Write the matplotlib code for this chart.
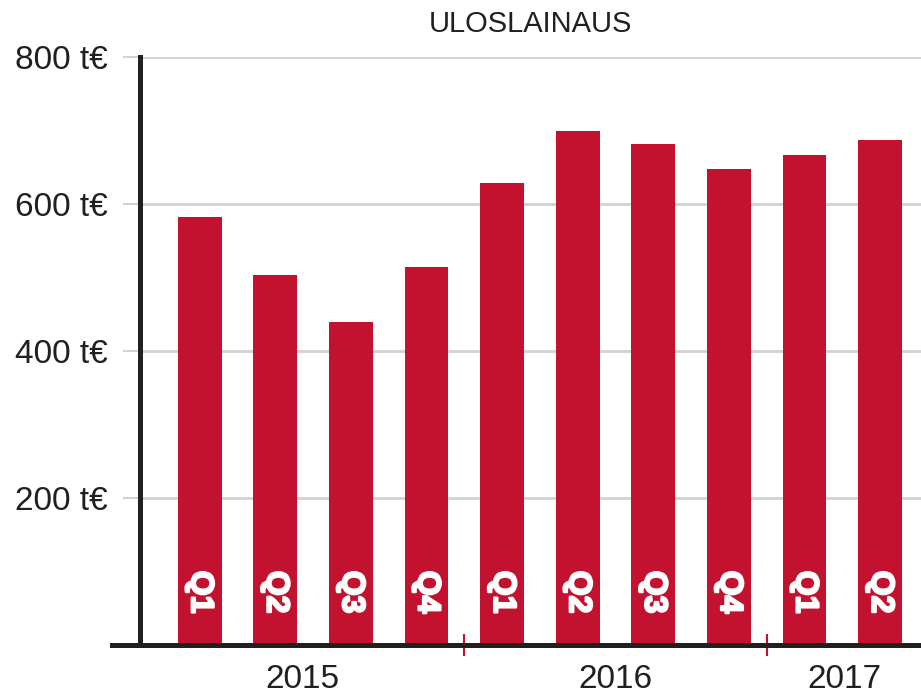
import matplotlib
matplotlib.use("Agg")
import matplotlib.pyplot as plt
import matplotlib.patheffects as pe
import numpy as np

# quarterly lending, thousand euros
quarters = ["Q1", "Q2", "Q3", "Q4", "Q1", "Q2", "Q3", "Q4", "Q1", "Q2"]
values = [582, 504, 439, 514, 628, 700, 682, 648, 667, 687]
years = ["2015", "2016", "2017"]
year_breaks = [3.5, 7.5]   # between Q4 and the next Q1
yticks = [200, 400, 600, 800]

red = "#c3122f"
dark = "#231f20"
grid = "#d2d2d2"

plt.rcParams["font.family"] = ["Liberation Sans", "DejaVu Sans"]

fig = plt.figure(figsize=(9.21, 6.96), dpi=100)
ax = fig.add_axes([140 / 921, 1 - 645 / 696, 781 / 921, (645 - 57) / 696])

x = np.arange(len(values))
ax.bar(x, values, width=0.58, color=red, zorder=3)

for xi, q in zip(x, quarters):
    ax.text(xi, 72, q, rotation=-90, ha="center", va="center",
            color="white", fontsize=23, fontweight="bold", zorder=4,
            path_effects=[pe.withStroke(linewidth=1.6, foreground="white")])

xlim = (-0.79, 9.54)
ax.set_xlim(*xlim)
ax.set_ylim(0, 800)

ax.set_yticks(yticks)
ax.set_yticklabels([f"{v} t€" for v in yticks])
ax.yaxis.grid(True, color=grid, linewidth=2, zorder=0)
ax.tick_params(axis="y", length=12.5, width=1.5, color=grid, pad=11,
               labelsize=24, labelcolor=dark)

# year labels centred between dividers
edges = [xlim[0]] + year_breaks + [xlim[1]]
mids = [(a + b) / 2 for a, b in zip(edges[:-1], edges[1:])]
ax.set_xticks(mids)
ax.set_xticklabels(years)
ax.set_xticks(year_breaks, minor=True)
ax.tick_params(axis="x", which="major", length=0, pad=14,
               labelsize=24, labelcolor=dark)
ax.tick_params(axis="x", which="minor", direction="inout", length=16,
               width=1.5, color=red)

for s in ["top", "right", "bottom"]:
    ax.spines[s].set_visible(False)
ax.spines["left"].set_color(dark)
ax.spines["left"].set_linewidth(3.6)
ax.spines["left"].set_zorder(5)
ax.axhline(0, xmin=-28 / 781, xmax=1, color=dark, linewidth=3.6,
           clip_on=False, zorder=5)

ax.set_title("ULOSLAINAUS", fontsize=21, color=dark, pad=18)

fig.savefig("out.png", dpi=100)
